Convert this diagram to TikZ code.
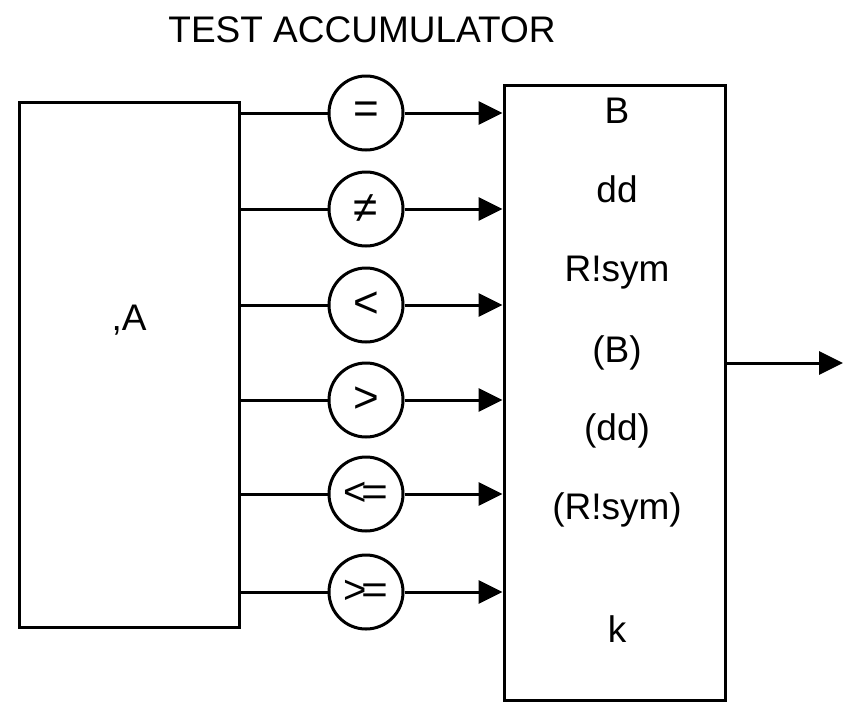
\documentclass[tikz,border=0pt]{standalone}
\usepackage{fontspec}
\setmainfont{Liberation Sans}
\usetikzlibrary{arrows.meta}
\begin{document}
\begin{tikzpicture}[x=1pt,y=-1pt,
  box/.style={draw,line width=3pt,inner sep=0pt},
  op/.style={draw,circle,line width=3pt,minimum size=74pt,inner sep=0pt,font=\fontsize{44}{44}\selectfont},
  wire/.style={line width=3pt},
  arr/.style={line width=3pt,-{Triangle[length=24pt,width=23pt]}},
  lbl/.style={font=\fontsize{37}{37}\selectfont,inner sep=0pt,anchor=base}]
\useasboundingbox (0,0) rectangle (843,702);
\node[lbl] (title) at (362,42) {TEST ACCUMULATOR};
\node[box,minimum width=220pt,minimum height=525pt] (A) at (129,364.5) {};
\node[lbl] (atext) at (129,330) {,A};
\node[box,minimum width=221pt,minimum height=615pt] (R) at (614.5,392.5) {};
\foreach \n/\y/\s in {1/113/{=},2/209/{≠},3/305/{<},4/400/{>},%
    5/494/{\fontsize{40}{40}\selectfont<\kern-0.12em\scalebox{1.15}[1]{=}},%
    6/592/{\fontsize{40}{40}\selectfont>\kern-0.12em\scalebox{1.15}[1]{=}}}{
  \node[op] (c\n) at (366,\y) {\s};
  \draw[wire] (c\n.west -| A.east) -- (c\n.west);
  \draw[arr] (c\n.east) -- (c\n.east -| R.west);
}
\node[lbl] (t1) at (617,123) {B};
\node[lbl] (t2) at (617,202) {dd};
\node[lbl] (t3) at (617,281) {R!sym};
\node[lbl] (t4) at (617,362) {(B)};
\node[lbl] (t5) at (617,440) {(dd)};
\node[lbl] (t6) at (617,519) {(R!sym)};
\node[lbl] (t7) at (617,642) {k};
\coordinate (out) at (843,363);
\draw[arr] (R.east |- out) -- (out);
\end{tikzpicture}
\end{document}
